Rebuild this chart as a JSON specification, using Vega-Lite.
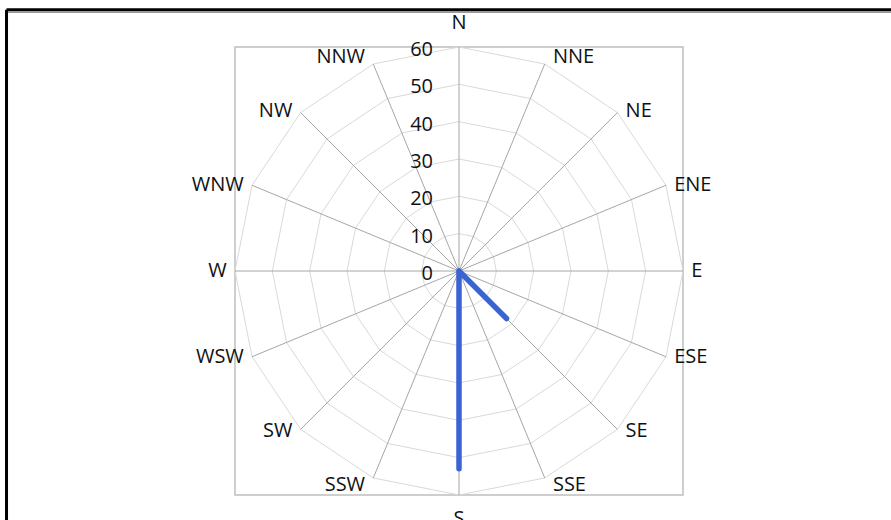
{
  "$schema": "https://vega.github.io/schema/vega-lite/v6.json",
  "width": 448,
  "height": 448,
  "autosize": {"type": "none"},
  "padding": {"left": 235, "top": 47, "right": 208, "bottom": 25},
  "background": "white",
  "config": {
    "view": {"stroke": "#bfbfbf", "strokeWidth": 1.5},
    "text": {"font": "Open Sans", "fontSize": 20, "fill": "#111111"}
  },
  "datasets": {
    "dirs": [
      {"dir": "N", "deg": 0, "value": 0},
      {"dir": "NNE", "deg": 22.5, "value": 0},
      {"dir": "NE", "deg": 45, "value": 0},
      {"dir": "ENE", "deg": 67.5, "value": 0},
      {"dir": "E", "deg": 90, "value": 0},
      {"dir": "ESE", "deg": 112.5, "value": 0},
      {"dir": "SE", "deg": 135, "value": 18},
      {"dir": "SSE", "deg": 157.5, "value": 0},
      {"dir": "S", "deg": 180, "value": 53},
      {"dir": "SSW", "deg": 202.5, "value": 0},
      {"dir": "SW", "deg": 225, "value": 0},
      {"dir": "WSW", "deg": 247.5, "value": 0},
      {"dir": "W", "deg": 270, "value": 0},
      {"dir": "WNW", "deg": 292.5, "value": 0},
      {"dir": "NW", "deg": 315, "value": 0},
      {"dir": "NNW", "deg": 337.5, "value": 0}
    ],
    "rings": [
      {"ring": 10, "deg": [0, 22.5, 45, 67.5, 90, 112.5, 135, 157.5, 180, 202.5, 225, 247.5, 270, 292.5, 315, 337.5, 360]},
      {"ring": 20, "deg": [0, 22.5, 45, 67.5, 90, 112.5, 135, 157.5, 180, 202.5, 225, 247.5, 270, 292.5, 315, 337.5, 360]},
      {"ring": 30, "deg": [0, 22.5, 45, 67.5, 90, 112.5, 135, 157.5, 180, 202.5, 225, 247.5, 270, 292.5, 315, 337.5, 360]},
      {"ring": 40, "deg": [0, 22.5, 45, 67.5, 90, 112.5, 135, 157.5, 180, 202.5, 225, 247.5, 270, 292.5, 315, 337.5, 360]},
      {"ring": 50, "deg": [0, 22.5, 45, 67.5, 90, 112.5, 135, 157.5, 180, 202.5, 225, 247.5, 270, 292.5, 315, 337.5, 360]},
      {"ring": 60, "deg": [0, 22.5, 45, 67.5, 90, 112.5, 135, 157.5, 180, 202.5, 225, 247.5, 270, 292.5, 315, 337.5, 360]}
    ],
    "ticks": [
      {"t": 0}, {"t": 10}, {"t": 20}, {"t": 30}, {"t": 40}, {"t": 50}, {"t": 60}
    ]
  },
  "layer": [
    {
      "data": {"name": "rings"},
      "transform": [
        {"flatten": ["deg"]},
        {"calculate": "datum.ring * sin(datum.deg * PI / 180)", "as": "gx"},
        {"calculate": "datum.ring * cos(datum.deg * PI / 180)", "as": "gy"}
      ],
      "mark": {"type": "line", "stroke": "#d9d9d9", "strokeWidth": 1},
      "encoding": {
        "x": {"field": "gx", "type": "quantitative", "scale": {"domain": [-60, 60], "nice": false, "zero": false}, "axis": null},
        "y": {"field": "gy", "type": "quantitative", "scale": {"domain": [-60, 60], "nice": false, "zero": false}, "axis": null},
        "detail": {"field": "ring", "type": "nominal"},
        "order": {"field": "deg", "type": "quantitative"}
      }
    },
    {
      "data": {"name": "dirs"},
      "transform": [
        {"calculate": "0", "as": "ox"},
        {"calculate": "60 * sin(datum.deg * PI / 180)", "as": "ex"},
        {"calculate": "60 * cos(datum.deg * PI / 180)", "as": "ey"}
      ],
      "mark": {"type": "rule", "stroke": "#a6a6a6", "strokeWidth": 1},
      "encoding": {
        "x": {"field": "ox", "type": "quantitative", "scale": {"domain": [-60, 60], "nice": false, "zero": false}, "axis": null},
        "y": {"field": "ox", "type": "quantitative", "scale": {"domain": [-60, 60], "nice": false, "zero": false}, "axis": null},
        "x2": {"field": "ex"},
        "y2": {"field": "ey"}
      }
    },
    {
      "data": {"name": "ticks"},
      "transform": [{"calculate": "0", "as": "ox"}],
      "mark": {"type": "text", "align": "right", "baseline": "middle", "dx": -26, "dy": 3},
      "encoding": {
        "x": {"field": "ox", "type": "quantitative", "scale": {"domain": [-60, 60], "nice": false, "zero": false}, "axis": null},
        "y": {"field": "t", "type": "quantitative", "scale": {"domain": [-60, 60], "nice": false, "zero": false}, "axis": null},
        "text": {"field": "t", "type": "quantitative"}
      }
    },
    {
      "data": {"name": "dirs"},
      "transform": [
        {"calculate": "datum.value * sin(datum.deg * PI / 180)", "as": "wx"},
        {"calculate": "datum.value * cos(datum.deg * PI / 180)", "as": "wy"}
      ],
      "mark": {"type": "line", "stroke": "#3a64d4", "strokeWidth": 5.5, "strokeCap": "round", "strokeJoin": "round"},
      "encoding": {
        "x": {"field": "wx", "type": "quantitative", "scale": {"domain": [-60, 60], "nice": false, "zero": false}, "axis": null},
        "y": {"field": "wy", "type": "quantitative", "scale": {"domain": [-60, 60], "nice": false, "zero": false}, "axis": null},
        "order": {"field": "deg", "type": "quantitative"}
      }
    },
    {
      "data": {"name": "dirs"},
      "transform": [
        {"calculate": "sin(datum.deg * PI / 180)", "as": "s"},
        {"calculate": "cos(datum.deg * PI / 180)", "as": "c"},
        {"filter": "datum.s > 0.01"},
        {"calculate": "60 * datum.s + 2.2", "as": "lx"},
        {"calculate": "60 * datum.c + 3 * pow(datum.c, 5)", "as": "ly"}
      ],
      "mark": {"type": "text", "align": "left", "baseline": "middle"},
      "encoding": {
        "x": {"field": "lx", "type": "quantitative", "scale": {"domain": [-60, 60], "nice": false, "zero": false}, "axis": null},
        "y": {"field": "ly", "type": "quantitative", "scale": {"domain": [-60, 60], "nice": false, "zero": false}, "axis": null},
        "text": {"field": "dir", "type": "nominal"}
      }
    },
    {
      "data": {"name": "dirs"},
      "transform": [
        {"calculate": "sin(datum.deg * PI / 180)", "as": "s"},
        {"calculate": "cos(datum.deg * PI / 180)", "as": "c"},
        {"filter": "datum.s < -0.01"},
        {"calculate": "60 * datum.s - 2.2", "as": "lx"},
        {"calculate": "60 * datum.c + 3 * pow(datum.c, 5)", "as": "ly"}
      ],
      "mark": {"type": "text", "align": "right", "baseline": "middle"},
      "encoding": {
        "x": {"field": "lx", "type": "quantitative", "scale": {"domain": [-60, 60], "nice": false, "zero": false}, "axis": null},
        "y": {"field": "ly", "type": "quantitative", "scale": {"domain": [-60, 60], "nice": false, "zero": false}, "axis": null},
        "text": {"field": "dir", "type": "nominal"}
      }
    },
    {
      "data": {"name": "dirs"},
      "transform": [
        {"calculate": "sin(datum.deg * PI / 180)", "as": "s"},
        {"calculate": "cos(datum.deg * PI / 180)", "as": "c"},
        {"filter": "abs(datum.s) <= 0.01"},
        {"calculate": "0", "as": "lx"},
        {"calculate": "66.5 * datum.c", "as": "ly"}
      ],
      "mark": {"type": "text", "align": "center", "baseline": "middle"},
      "encoding": {
        "x": {"field": "lx", "type": "quantitative", "scale": {"domain": [-60, 60], "nice": false, "zero": false}, "axis": null},
        "y": {"field": "ly", "type": "quantitative", "scale": {"domain": [-60, 60], "nice": false, "zero": false}, "axis": null},
        "text": {"field": "dir", "type": "nominal"}
      }
    },
    {
      "data": {"values": [{"edge": "top"}]},
      "transform": [
        {"calculate": "-121.2", "as": "fx1"},
        {"calculate": "130", "as": "fx2"},
        {"calculate": "69.3", "as": "fy"}
      ],
      "mark": {"type": "rule", "stroke": "#9a9a9a", "strokeWidth": 1.5},
      "encoding": {
        "x": {"field": "fx1", "type": "quantitative", "scale": {"domain": [-60, 60], "nice": false, "zero": false}, "axis": null},
        "x2": {"field": "fx2"},
        "y": {"field": "fy", "type": "quantitative", "scale": {"domain": [-60, 60], "nice": false, "zero": false}, "axis": null}
      }
    },
    {
      "data": {"values": [{"edge": "top"}]},
      "transform": [
        {"calculate": "-121.2", "as": "fx1"},
        {"calculate": "130", "as": "fx2"},
        {"calculate": "70", "as": "fy"}
      ],
      "mark": {"type": "rule", "stroke": "#000000", "strokeWidth": 3},
      "encoding": {
        "x": {"field": "fx1", "type": "quantitative", "scale": {"domain": [-60, 60], "nice": false, "zero": false}, "axis": null},
        "x2": {"field": "fx2"},
        "y": {"field": "fy", "type": "quantitative", "scale": {"domain": [-60, 60], "nice": false, "zero": false}, "axis": null}
      }
    },
    {
      "data": {"values": [{"edge": "left"}]},
      "transform": [
        {"calculate": "-121.2", "as": "fx"},
        {"calculate": "70", "as": "fy1"},
        {"calculate": "-80", "as": "fy2"}
      ],
      "mark": {"type": "rule", "stroke": "#000000", "strokeWidth": 3},
      "encoding": {
        "x": {"field": "fx", "type": "quantitative", "scale": {"domain": [-60, 60], "nice": false, "zero": false}, "axis": null},
        "y": {"field": "fy1", "type": "quantitative", "scale": {"domain": [-60, 60], "nice": false, "zero": false}, "axis": null},
        "y2": {"field": "fy2"}
      }
    }
  ]
}
